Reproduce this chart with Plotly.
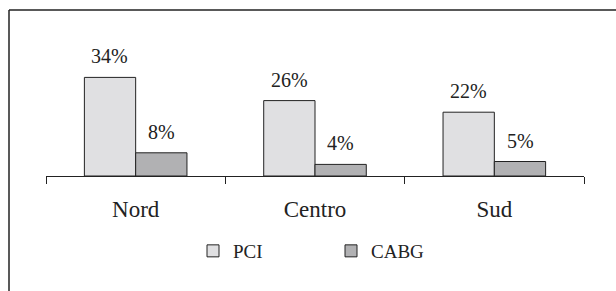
import plotly.graph_objects as go

categories = ["Nord", "Centro", "Sud"]
pci = [34, 26, 22]
cabg = [8, 4, 5]
pci_labels = ["34%", "26%", "22%"]
cabg_labels = ["8%", "4%", "5%"]

INK = "#222222"
FONT = "Liberation Serif"

fig = go.Figure()
fig.add_trace(go.Bar(name="PCI", x=categories, y=pci,
                     marker=dict(color="#e0e0e2", line=dict(color=INK, width=1))))
fig.add_trace(go.Bar(name="CABG", x=categories, y=cabg,
                     marker=dict(color="#b1b1b3", line=dict(color=INK, width=1))))

bar_half = 25.7
for cat, v, t in zip(categories, pci, pci_labels):
    fig.add_annotation(x=cat, y=v, text=t, showarrow=False, xshift=-bar_half,
                       yanchor="bottom", yshift=8, font=dict(family=FONT, size=20, color=INK))
for cat, v, t in zip(categories, cabg, cabg_labels):
    fig.add_annotation(x=cat, y=v, text=t, showarrow=False, xshift=bar_half,
                       yanchor="bottom", yshift=8, font=dict(family=FONT, size=20, color=INK))

L, R, T, B = 46, 32, 60, 115
W, H = 616, 291
pw = W - L - R
ph = H - T - B

def px_x(x):
    return (x - L) / pw

def px_y(y):
    return (H - B - y) / ph

fig.add_shape(type="line", xref="paper", yref="paper",
              x0=px_x(9), x1=px_x(620), y0=px_y(10), y1=px_y(10),
              line=dict(color=INK, width=1.5))
fig.add_shape(type="line", xref="paper", yref="paper",
              x0=px_x(9), x1=px_x(9), y0=px_y(10), y1=px_y(295),
              line=dict(color=INK, width=1.5))

fig.update_layout(
    width=W, height=H,
    margin=dict(l=L, r=R, t=T, b=B, autoexpand=False),
    paper_bgcolor="white", plot_bgcolor="white",
    barmode="group", bargap=0.428, bargroupgap=0,
    font=dict(family=FONT, color=INK),
    showlegend=True,
    legend=dict(orientation="h", x=0.5 + 16 / pw, xanchor="center", y=px_y(232), yanchor="top",
                font=dict(family=FONT, size=19, color=INK),
                entrywidth=93, itemwidth=30, bgcolor="rgba(0,0,0,0)"),
)
fig.update_xaxes(showline=True, linecolor=INK, linewidth=1, ticks="outside", tickson="boundaries",
                 ticklen=7, tickcolor=INK, tickwidth=1, showgrid=False,
                 tickfont=dict(family=FONT, size=23, color=INK), ticklabelstandoff=12)
fig.update_yaxes(range=[0, 40], visible=False, showgrid=False, zeroline=False)

fig.write_html("out.html", config={"displayModeBar": False},
               post_script="document.body.style.margin='0';")
